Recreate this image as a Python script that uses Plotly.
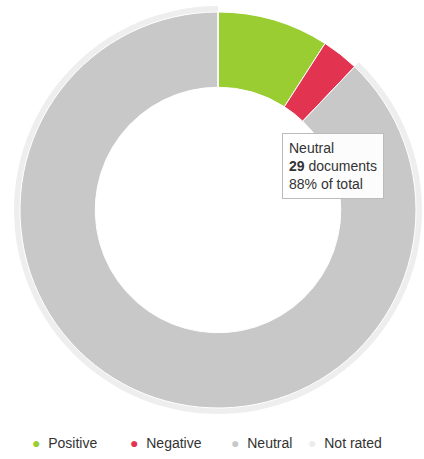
import plotly.graph_objects as go

labels = ["Positive", "Negative", "Neutral", "Not rated"]
values = [3, 1, 29, 0]
colors = ["#9acd32", "#e23350", "#c8c8c8", "#ececec"]
legend_x = [30, 128, 229, 306]  # legend symbol positions (px)

W, H = 424, 459
CX, CY, R, HALO = 218, 210, 198, 6
total = sum(values)
hover_idx = 2
tip = f"{labels[hover_idx]}<br><b>{values[hover_idx]}</b> documents<br>{round(values[hover_idx] / total * 100)}% of total"

def dom(r):
    return dict(x=[max(0, (CX - r) / W), min(1, (CX + r) / W)],
                y=[max(0, (H - CY - r) / H), min(1, (H - CY + r) / H)])

fig = go.Figure()
# hover halo around the highlighted slice
halo_colors = ["rgba(0,0,0,0)"] * len(labels)
halo_colors[hover_idx] = "rgba(200,200,200,0.3)"
fig.add_trace(go.Pie(
    labels=labels, values=values, hole=R / (R + HALO), sort=False,
    direction="clockwise", rotation=0,
    marker=dict(colors=halo_colors, line=dict(width=0)),
    textinfo="none", hoverinfo="skip", domain=dom(R + HALO), showlegend=False,
))
fig.add_trace(go.Pie(
    labels=labels,
    values=values,
    hole=0.62,
    sort=False,
    direction="clockwise",
    rotation=0,
    marker=dict(colors=colors, line=dict(color="#ffffff", width=1)),
    textinfo="none",
    hoverinfo="skip",
    domain=dom(R),
    showlegend=False,
))

fig.add_annotation(
    x=282 / W, y=1 - 133 / H, xref="paper", yref="paper",
    xanchor="left", yanchor="top",
    text=tip, showarrow=False, align="left",
    font=dict(family="Liberation Sans, Arial", size=14, color="#333333"),
    bgcolor="rgba(255,255,255,0.95)", bordercolor="#bbbbbb", borderwidth=1, borderpad=6,
)

# legend built from the category arrays
for lab, col, lx in zip(labels, colors, legend_x):
    fig.add_annotation(
        x=lx / W, y=1 - 443 / H, xref="paper", yref="paper",
        xanchor="left", yanchor="middle", showarrow=False,
        text=f"<span style='color:{col}'>●</span>  {lab}",
        font=dict(family="Liberation Sans, Arial", size=14, color="#333333"),
    )

fig.update_layout(
    width=W, height=H,
    margin=dict(l=0, r=0, t=0, b=0, autoexpand=False),
    paper_bgcolor="#ffffff",
    plot_bgcolor="#ffffff",
    font=dict(family="Liberation Sans, Arial", size=13, color="#333333"),
    showlegend=False,
)

fig.write_html(
    "out.html",
    config={"displayModeBar": False},
    post_script="document.body.style.margin='0';document.body.style.overflow='hidden';",
)
